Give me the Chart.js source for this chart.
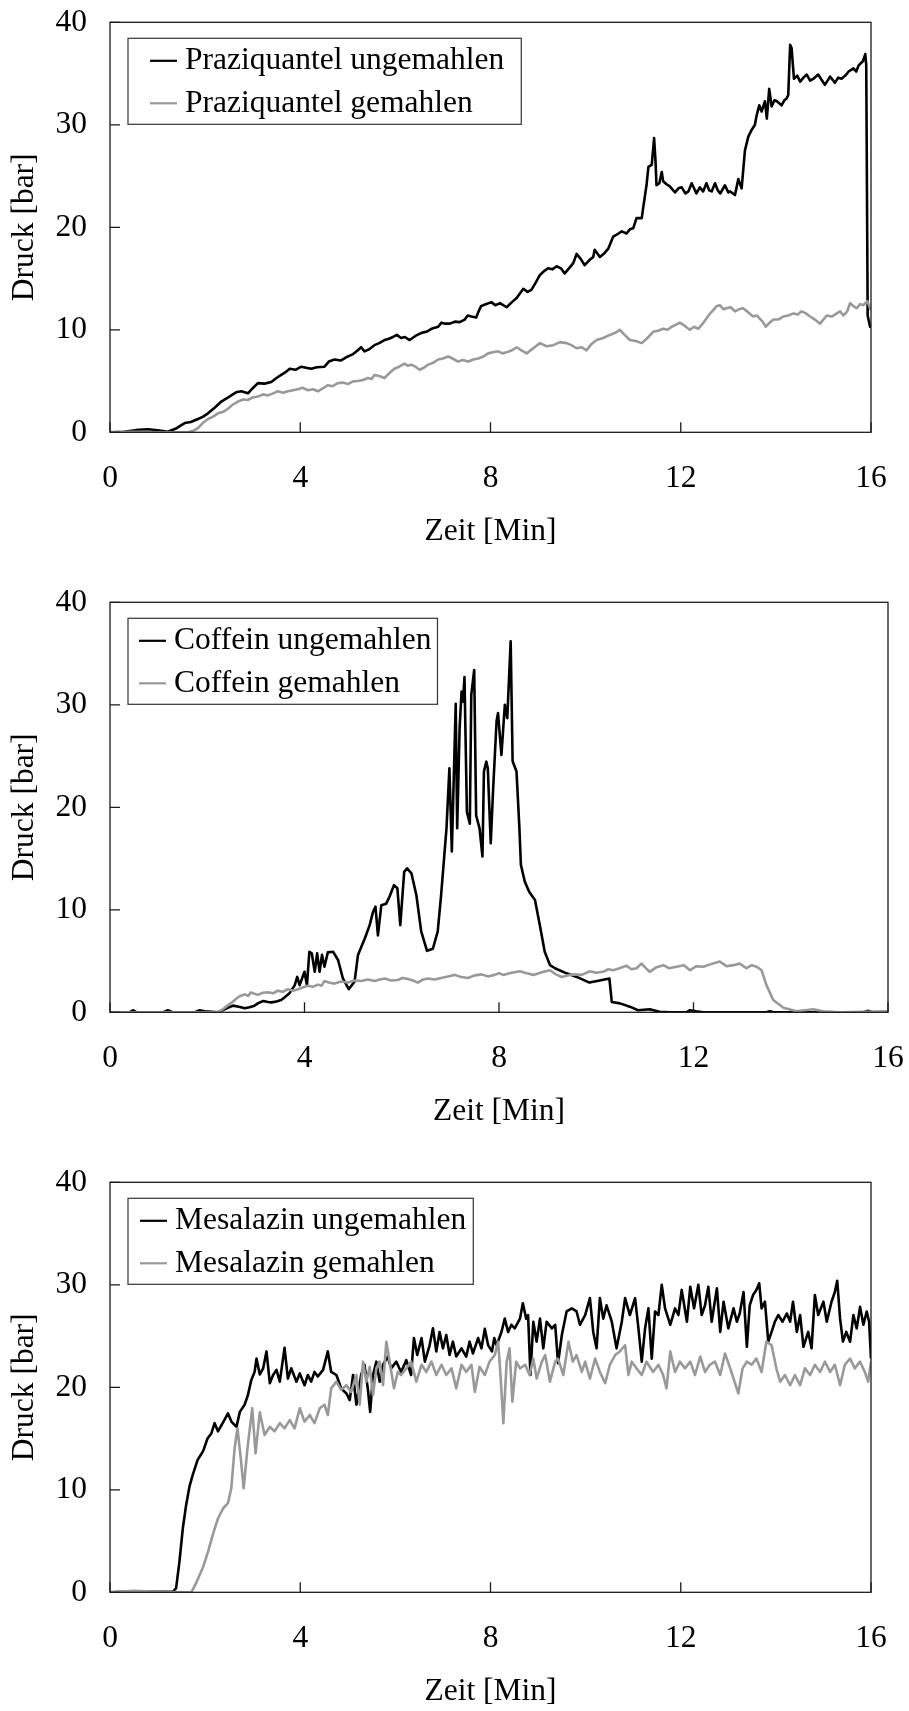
<!DOCTYPE html>
<html>
<head>
<meta charset="utf-8">
<script src="https://cdn.jsdelivr.net/npm/chart.js@4.4.0/dist/chart.umd.min.js"></script>
<style>
    html, body { margin: 0; padding: 0; background: #fff; }
    body { width: 909px; height: 1711px; position: relative; overflow: hidden; }
    canvas { position: absolute; left: 0; }
</style>
</head>
<body>
<canvas id="chartPrazi" width="909" height="551" style="top:0px"></canvas>
<canvas id="chartCoffein" width="909" height="551" style="top:580px"></canvas>
<canvas id="chartMesalazin" width="909" height="551" style="top:1160px"></canvas>
<script>
// axis ticks
var timeTicks = [0, 4, 8, 12, 16];     // Zeit [Min]
var pressureTicks = [0, 10, 20, 30, 40]; // Druck [bar]

// series as [Zeit, Druck] pairs
var praziUngemahlen = [[0,0],[0.3,0.05],[0.6,0.25],[0.8,0.3],[1.0,0.2],[1.22,0.05],[1.4,0.4],[1.57,0.9],[1.7,1.0],[1.85,1.3],[1.95,1.5],[2.06,1.85],[2.2,2.4],[2.34,3.0],[2.45,3.3],[2.55,3.6],[2.65,3.9],[2.76,4.0],[2.9,3.8],[3.0,4.3],[3.11,4.8],[3.25,4.75],[3.39,4.9],[3.5,5.3],[3.6,5.6],[3.7,5.9],[3.78,6.2],[3.9,6.1],[4.02,6.4],[4.12,6.3],[4.23,6.2],[4.35,6.35],[4.51,6.4],[4.6,6.9],[4.72,7.1],[4.85,7.0],[5.0,7.4],[5.1,7.6],[5.21,8.0],[5.28,8.3],[5.35,7.9],[5.45,8.1],[5.56,8.5],[5.66,8.7],[5.77,9.0],[5.85,9.1],[5.95,9.3],[6.03,9.5],[6.12,9.2],[6.2,9.3],[6.3,9.0],[6.42,9.4],[6.55,9.7],[6.65,9.8],[6.76,10.1],[6.9,10.3],[6.97,10.7],[7.04,10.6],[7.15,10.6],[7.25,10.8],[7.35,10.75],[7.46,11.0],[7.52,11.4],[7.6,11.3],[7.7,11.2],[7.75,11.8],[7.8,12.3],[7.9,12.5],[8.02,12.7],[8.1,12.4],[8.2,12.6],[8.34,12.2],[8.45,12.7],[8.55,13.1],[8.69,14.0],[8.78,13.7],[8.86,13.9],[8.95,14.6],[9.04,15.35],[9.12,15.7],[9.21,16.0],[9.3,15.9],[9.39,16.2],[9.48,16.0],[9.56,15.5],[9.65,16.0],[9.74,16.5],[9.81,17.4],[9.9,16.9],[9.98,16.3],[10.08,16.8],[10.16,17.1],[10.19,17.8],[10.3,17.1],[10.4,17.5],[10.48,17.95],[10.58,19.1],[10.66,19.3],[10.76,19.6],[10.86,19.4],[10.93,19.8],[11.0,19.9],[11.07,20.9],[11.18,20.9],[11.21,21.9],[11.28,24.1],[11.32,25.9],[11.39,26.1],[11.44,28.7],[11.47,26.4],[11.49,24.1],[11.55,24.3],[11.6,25.4],[11.63,24.5],[11.7,24.2],[11.77,24.0],[11.88,23.4],[11.95,23.8],[12.02,23.9],[12.1,23.3],[12.16,23.5],[12.23,24.3],[12.33,23.3],[12.4,23.9],[12.47,23.5],[12.54,24.3],[12.6,23.6],[12.65,23.5],[12.72,24.3],[12.78,23.6],[12.83,23.3],[12.93,24.1],[13.0,23.4],[13.04,23.5],[13.14,23.15],[13.21,24.7],[13.28,23.8],[13.35,27.5],[13.42,28.85],[13.49,29.5],[13.56,30.0],[13.59,30.8],[13.65,31.9],[13.7,31.3],[13.77,32.3],[13.81,30.6],[13.86,33.5],[13.91,31.8],[13.97,32.4],[14.02,32.3],[14.12,31.9],[14.18,32.4],[14.23,32.6],[14.26,32.9],[14.3,37.8],[14.33,37.5],[14.38,34.5],[14.45,34.8],[14.51,34.2],[14.58,34.6],[14.65,34.9],[14.72,34.3],[14.79,34.5],[14.89,34.9],[14.96,34.4],[15.03,33.9],[15.14,34.7],[15.24,34.1],[15.31,34.6],[15.38,34.5],[15.46,34.8],[15.53,35.2],[15.63,35.5],[15.69,35.2],[15.74,35.8],[15.83,36.2],[15.88,36.9],[15.9,35.8],[15.93,11.4],[15.98,10.3],[16.0,10.3]];
var praziGemahlen = [[0,0],[0.5,0.05],[1.0,0],[1.64,0],[1.75,0.15],[1.85,0.4],[1.95,0.9],[2.06,1.3],[2.16,1.5],[2.27,1.85],[2.38,2.0],[2.48,2.3],[2.58,2.7],[2.69,3.0],[2.8,3.2],[2.9,3.15],[3.0,3.4],[3.11,3.5],[3.22,3.7],[3.32,3.6],[3.43,3.8],[3.53,4.0],[3.64,3.85],[3.74,4.0],[3.85,4.1],[3.95,4.2],[4.05,4.35],[4.16,4.1],[4.27,4.2],[4.37,4.0],[4.48,4.3],[4.58,4.6],[4.68,4.5],[4.79,4.8],[4.9,4.85],[5.0,4.7],[5.1,4.95],[5.21,5.0],[5.32,5.1],[5.42,5.3],[5.5,5.2],[5.56,5.6],[5.66,5.5],[5.77,5.3],[5.88,5.8],[5.98,6.2],[6.08,6.4],[6.19,6.7],[6.26,6.5],[6.33,6.6],[6.42,6.4],[6.51,6.1],[6.6,6.3],[6.69,6.6],[6.8,6.8],[6.9,7.1],[7.0,7.2],[7.11,7.4],[7.2,7.2],[7.32,6.9],[7.42,7.05],[7.53,6.9],[7.64,7.1],[7.74,7.2],[7.85,7.4],[7.95,7.7],[8.05,7.8],[8.16,7.9],[8.25,7.7],[8.34,7.8],[8.45,8.0],[8.55,8.3],[8.65,8.0],[8.76,7.7],[8.9,8.2],[9.04,8.7],[9.18,8.4],[9.32,8.5],[9.46,8.8],[9.6,8.7],[9.7,8.5],[9.81,8.2],[9.92,8.3],[10.02,8.0],[10.12,8.6],[10.23,9.0],[10.37,9.2],[10.51,9.5],[10.62,9.7],[10.72,10.0],[10.82,9.5],[10.93,9.0],[11.05,8.9],[11.18,8.7],[11.3,9.2],[11.42,9.8],[11.52,9.9],[11.63,10.1],[11.72,10.0],[11.81,10.3],[11.9,10.5],[11.98,10.7],[12.08,10.4],[12.19,10.0],[12.28,10.3],[12.37,10.1],[12.46,10.6],[12.54,11.1],[12.6,11.5],[12.68,11.9],[12.75,12.3],[12.82,12.4],[12.9,12.0],[12.96,12.1],[13.05,12.2],[13.14,11.8],[13.22,12.0],[13.31,12.1],[13.42,11.7],[13.52,11.3],[13.6,11.4],[13.66,11.1],[13.72,10.8],[13.79,10.3],[13.87,10.7],[13.95,11.0],[14.05,11.0],[14.16,11.3],[14.26,11.4],[14.37,11.6],[14.46,11.5],[14.54,11.8],[14.63,11.6],[14.72,11.3],[14.82,11.0],[14.93,10.6],[15.0,11.0],[15.07,11.4],[15.18,11.3],[15.28,11.6],[15.35,11.8],[15.42,11.4],[15.5,11.8],[15.56,12.6],[15.63,12.3],[15.7,12.1],[15.77,12.5],[15.84,12.4],[15.92,12.8],[16.0,11.9]];

var coffeinUngemahlen = [[0,0],[0.4,0],[0.47,0.2],[0.55,0],[1.1,0],[1.19,0.2],[1.28,0],[1.75,0],[1.84,0.2],[1.95,0.1],[2.22,0],[2.4,0.4],[2.53,0.65],[2.65,0.55],[2.77,0.4],[2.87,0.5],[2.97,0.65],[3.05,0.9],[3.15,1.1],[3.25,1.0],[3.32,0.97],[3.42,1.05],[3.52,1.2],[3.6,1.5],[3.69,1.85],[3.8,2.65],[3.85,3.45],[3.9,2.65],[4.0,3.95],[4.05,2.65],[4.1,5.9],[4.15,5.75],[4.21,3.95],[4.26,5.75],[4.31,3.95],[4.36,5.6],[4.41,4.45],[4.48,5.85],[4.59,5.9],[4.69,5.1],[4.79,3.3],[4.91,2.25],[5.03,3.0],[5.1,5.6],[5.24,7.2],[5.34,8.5],[5.41,9.8],[5.46,10.3],[5.51,7.5],[5.58,10.45],[5.68,10.6],[5.75,11.3],[5.84,12.4],[5.91,12.1],[5.97,8.5],[6.05,13.7],[6.11,14.05],[6.2,13.55],[6.3,11.45],[6.4,7.9],[6.52,6.0],[6.64,6.2],[6.74,7.9],[6.81,11.45],[6.92,17.95],[6.98,23.8],[7.03,15.7],[7.11,30.1],[7.14,17.95],[7.19,27.7],[7.23,31.3],[7.26,30.3],[7.29,32.7],[7.34,19.55],[7.4,18.4],[7.43,31.0],[7.49,33.4],[7.53,19.2],[7.6,17.95],[7.66,15.2],[7.69,23.5],[7.74,24.45],[7.77,23.8],[7.83,16.5],[7.88,21.85],[7.95,28.4],[7.98,29.2],[8.05,25.1],[8.12,30.0],[8.17,28.7],[8.24,36.2],[8.28,24.5],[8.36,23.5],[8.42,17.95],[8.45,14.4],[8.53,12.75],[8.62,11.75],[8.74,10.95],[8.84,8.5],[8.94,5.9],[9.05,4.6],[9.15,4.3],[9.39,3.8],[9.6,3.45],[9.86,2.9],[10.07,3.1],[10.27,3.3],[10.32,1.0],[10.49,0.87],[10.69,0.55],[10.86,0.2],[11.1,0.3],[11.3,0.05],[11.51,0],[11.85,0],[11.93,0.2],[12.05,0.1],[12.2,0],[13.5,0],[13.57,0.1],[13.65,0],[15.5,0],[15.59,0.15],[15.68,0],[16.0,0]];
var coffeinGemahlen = [[0,0],[2.22,0],[2.32,0.3],[2.43,0.7],[2.52,1.0],[2.6,1.35],[2.68,1.6],[2.77,1.75],[2.84,1.6],[2.9,1.95],[2.97,1.8],[3.04,1.7],[3.14,1.9],[3.25,1.95],[3.35,1.85],[3.45,2.1],[3.55,2.0],[3.66,2.25],[3.76,2.1],[3.87,2.25],[3.97,2.45],[4.07,2.6],[4.17,2.5],[4.28,2.7],[4.35,2.6],[4.41,3.05],[4.5,2.9],[4.62,2.8],[4.75,3.0],[4.89,2.9],[5.03,3.1],[5.17,3.05],[5.3,3.2],[5.44,3.05],[5.55,3.2],[5.65,3.3],[5.78,3.1],[5.92,3.15],[6.02,3.35],[6.13,3.25],[6.23,3.1],[6.33,2.9],[6.44,3.2],[6.54,3.3],[6.68,3.2],[6.81,3.35],[6.95,3.5],[7.09,3.65],[7.22,3.45],[7.36,3.35],[7.5,3.6],[7.64,3.7],[7.78,3.5],[7.91,3.65],[8.0,3.8],[8.09,3.65],[8.26,3.85],[8.43,4.0],[8.57,3.8],[8.71,3.65],[8.88,3.9],[9.05,4.1],[9.17,3.7],[9.29,3.45],[9.41,3.6],[9.53,3.7],[9.7,3.65],[9.87,4.0],[10.0,3.85],[10.14,3.95],[10.25,4.2],[10.35,4.1],[10.48,4.3],[10.62,4.55],[10.72,4.2],[10.83,4.3],[10.93,4.75],[11.02,4.3],[11.1,3.95],[11.24,4.4],[11.38,4.6],[11.5,4.3],[11.65,4.45],[11.8,4.6],[11.93,4.1],[12.06,4.5],[12.2,4.45],[12.36,4.7],[12.54,4.95],[12.68,4.5],[12.82,4.6],[12.95,4.75],[13.09,4.3],[13.2,4.6],[13.3,4.45],[13.4,4.1],[13.5,2.65],[13.64,1.2],[13.85,0.45],[14.12,0.1],[14.46,0.3],[14.67,0.1],[15.0,0],[16.0,0.1]];

var mesaUngemahlen = [[0,0],[0.5,0.1],[1.0,0.05],[1.32,0.05],[1.39,0.4],[1.46,3.0],[1.53,6.2],[1.6,8.5],[1.67,10.3],[1.74,11.45],[1.84,12.9],[1.96,13.8],[2.05,15.0],[2.13,15.5],[2.2,16.5],[2.27,15.7],[2.38,16.6],[2.48,17.45],[2.56,16.6],[2.66,16.15],[2.73,17.6],[2.83,18.3],[2.9,19.25],[2.97,20.7],[3.04,21.5],[3.08,22.8],[3.15,21.25],[3.22,21.85],[3.29,23.5],[3.36,20.4],[3.43,21.2],[3.5,21.7],[3.57,20.55],[3.67,23.85],[3.74,20.85],[3.81,21.85],[3.92,20.55],[3.99,21.35],[4.09,20.2],[4.16,21.2],[4.23,20.55],[4.3,21.5],[4.37,21.05],[4.48,21.7],[4.58,23.5],[4.65,21.5],[4.76,21.2],[4.86,19.9],[4.97,19.4],[5.04,18.75],[5.11,21.2],[5.18,18.3],[5.28,21.2],[5.35,22.2],[5.42,19.9],[5.47,17.6],[5.53,21.2],[5.6,22.5],[5.67,20.55],[5.74,22.2],[5.84,23.0],[5.91,21.85],[6.02,22.5],[6.12,21.5],[6.23,22.65],[6.33,21.2],[6.39,24.8],[6.46,23.15],[6.55,24.8],[6.62,22.5],[6.72,24.1],[6.79,25.75],[6.86,23.5],[6.93,25.4],[7.0,23.8],[7.07,25.1],[7.14,23.15],[7.21,24.45],[7.28,23.0],[7.39,23.8],[7.49,23.0],[7.56,24.45],[7.63,23.3],[7.74,24.8],[7.81,23.8],[7.88,25.7],[7.95,24.1],[8.03,23.5],[8.08,24.8],[8.13,24.1],[8.23,25.4],[8.3,26.7],[8.37,25.4],[8.44,26.1],[8.51,25.75],[8.62,26.7],[8.68,28.2],[8.75,26.7],[8.79,27.05],[8.84,21.2],[8.9,26.4],[8.97,24.45],[9.04,26.7],[9.11,23.8],[9.18,26.4],[9.29,25.75],[9.36,26.1],[9.42,22.35],[9.5,25.1],[9.6,27.4],[9.71,27.7],[9.81,27.4],[9.88,26.1],[9.99,27.05],[10.09,28.7],[10.16,25.4],[10.23,23.8],[10.3,28.7],[10.37,26.7],[10.44,28.0],[10.55,26.4],[10.65,23.8],[10.76,26.4],[10.83,28.7],[10.93,27.05],[11.04,28.7],[11.11,25.75],[11.18,22.5],[11.25,25.75],[11.32,27.7],[11.39,22.8],[11.46,27.4],[11.53,27.05],[11.6,30.0],[11.67,27.7],[11.78,26.1],[11.88,27.7],[11.95,27.05],[12.02,29.5],[12.13,26.4],[12.2,29.8],[12.28,27.7],[12.37,30.0],[12.44,27.05],[12.51,28.0],[12.58,29.8],[12.65,26.4],[12.76,29.65],[12.83,25.4],[12.9,28.35],[13.0,25.75],[13.11,27.7],[13.18,26.4],[13.24,27.2],[13.32,29.3],[13.39,23.95],[13.45,28.0],[13.52,29.0],[13.59,29.5],[13.65,30.15],[13.7,27.7],[13.77,28.35],[13.84,24.45],[13.91,25.4],[13.98,26.4],[14.05,27.05],[14.14,26.4],[14.23,27.2],[14.3,26.4],[14.36,28.35],[14.44,25.4],[14.51,27.05],[14.58,23.95],[14.68,25.4],[14.75,23.8],[14.82,29.0],[14.89,27.05],[15.0,28.35],[15.07,26.4],[15.17,28.35],[15.24,29.3],[15.29,30.4],[15.35,26.7],[15.41,24.45],[15.48,25.4],[15.56,24.45],[15.63,27.05],[15.7,25.75],[15.77,27.85],[15.84,26.1],[15.91,27.4],[15.96,26.4],[16.0,22.8]];
var mesaGemahlen = [[0,0],[0.5,0.15],[1.0,0.05],[1.71,0],[1.82,1.0],[1.96,2.5],[2.06,3.95],[2.17,5.75],[2.27,7.2],[2.38,8.2],[2.48,8.7],[2.55,10.15],[2.62,14.05],[2.68,16.0],[2.75,13.05],[2.81,10.15],[2.89,14.05],[2.99,17.95],[3.06,13.55],[3.15,17.55],[3.25,15.35],[3.36,16.15],[3.46,15.7],[3.57,16.5],[3.67,16.0],[3.78,16.8],[3.88,16.0],[3.99,17.95],[4.09,16.65],[4.2,17.3],[4.3,16.5],[4.41,17.95],[4.51,18.3],[4.58,17.3],[4.65,19.9],[4.76,20.55],[4.86,19.75],[4.97,20.2],[5.07,19.55],[5.18,21.2],[5.25,18.3],[5.32,22.5],[5.39,20.55],[5.46,22.0],[5.53,19.25],[5.6,21.85],[5.67,22.5],[5.74,20.2],[5.81,24.45],[5.88,22.5],[5.97,19.9],[6.05,21.5],[6.12,21.2],[6.23,21.85],[6.33,22.5],[6.44,20.55],[6.55,22.2],[6.65,21.5],[6.76,22.5],[6.86,21.2],[6.97,22.2],[7.07,21.2],[7.18,21.85],[7.28,19.9],[7.39,22.2],[7.49,21.5],[7.6,22.2],[7.67,19.55],[7.77,22.0],[7.88,21.2],[7.98,22.5],[8.09,23.15],[8.16,24.45],[8.21,21.2],[8.27,16.5],[8.34,22.5],[8.4,23.8],[8.46,18.6],[8.54,22.5],[8.62,21.85],[8.73,22.2],[8.82,21.2],[8.9,22.8],[8.97,20.85],[9.08,22.5],[9.15,23.15],[9.25,20.55],[9.36,22.5],[9.42,22.8],[9.53,21.2],[9.64,24.45],[9.73,22.5],[9.81,23.15],[9.92,21.5],[9.99,22.5],[10.09,20.85],[10.2,22.8],[10.3,21.5],[10.41,20.4],[10.51,22.2],[10.62,23.15],[10.72,23.5],[10.83,24.1],[10.9,21.2],[10.97,22.5],[11.07,21.85],[11.18,21.2],[11.28,22.5],[11.42,21.5],[11.53,22.2],[11.63,21.2],[11.7,19.9],[11.78,23.5],[11.88,21.5],[11.98,22.5],[12.09,21.85],[12.2,22.5],[12.3,21.2],[12.41,23.0],[12.51,21.5],[12.61,22.2],[12.72,22.5],[12.83,21.2],[12.93,23.3],[13.04,21.85],[13.14,20.4],[13.21,19.4],[13.3,21.85],[13.39,22.5],[13.49,22.2],[13.59,22.8],[13.7,21.5],[13.8,24.45],[13.91,24.1],[14.01,21.85],[14.09,20.55],[14.19,21.2],[14.3,20.2],[14.4,21.2],[14.51,20.2],[14.61,21.85],[14.72,21.2],[14.82,22.2],[14.93,21.5],[15.03,22.5],[15.14,21.5],[15.24,22.2],[15.35,20.2],[15.45,22.2],[15.56,22.8],[15.66,21.85],[15.77,22.5],[15.87,21.5],[15.94,20.55],[16.0,22.5]];

var FONT_FAMILY = '"Liberation Serif", "Times New Roman", serif';
var FONT = { family: FONT_FAMILY, size: 31.5 };

function toPoints(pairs) {
    return pairs.map(function (p) { return { x: p[0], y: p[1] }; });
}

// closed frame round the plot plus short inward ticks
var framePlugin = {
    id: 'frame',
    afterDatasetsDraw: function (chart) {
        var ctx = chart.ctx, a = chart.chartArea;
        var xs = chart.scales.x, ys = chart.scales.y;
        ctx.save();
        ctx.strokeStyle = '#1a1a1a';
        ctx.lineWidth = 1.3;
        ctx.strokeRect(a.left, a.top, a.right - a.left, a.bottom - a.top);
        ctx.beginPath();
        xs.ticks.forEach(function (t) {
            var px = xs.getPixelForValue(t.value);
            ctx.moveTo(px, a.bottom);
            ctx.lineTo(px, a.bottom - 10);
        });
        ys.ticks.forEach(function (t) {
            var py = ys.getPixelForValue(t.value);
            ctx.moveTo(a.left, py);
            ctx.lineTo(a.left + 10, py);
        });
        ctx.stroke();
        ctx.restore();
    }
};

// boxed legend in the upper left corner of the plot
var legendBoxPlugin = {
    id: 'legendBox',
    afterDraw: function (chart, args, opts) {
        var ctx = chart.ctx, a = chart.chartArea;
        var sets = chart.data.datasets.slice().sort(function (p, q) { return p.legendIndex - q.legendIndex; });
        var inset = opts.inset || 12;
        var x0 = a.left + 18, y0 = a.top + 16;
        var rows = [y0 + 22.5, y0 + 65];
        var sampleX = x0 + inset, sampleW = 27, textX = sampleX + sampleW + 8;
        ctx.save();
        ctx.font = FONT.size + 'px ' + FONT_FAMILY;
        var w = 0;
        sets.forEach(function (d) { w = Math.max(w, ctx.measureText(d.label).width); });
        var x1 = textX + w + inset - 5, y1 = y0 + 86;
        ctx.fillStyle = '#fff';
        ctx.fillRect(x0, y0, x1 - x0, y1 - y0);
        ctx.strokeStyle = '#333';
        ctx.lineWidth = 1.2;
        ctx.strokeRect(x0, y0, x1 - x0, y1 - y0);
        sets.forEach(function (d, i) {
            ctx.strokeStyle = d.borderColor;
            ctx.lineWidth = 2.2;
            ctx.beginPath();
            ctx.moveTo(sampleX, rows[i]);
            ctx.lineTo(sampleX + sampleW, rows[i]);
            ctx.stroke();
            ctx.fillStyle = '#000';
            ctx.textBaseline = 'middle';
            ctx.textAlign = 'left';
            ctx.fillText(d.label, textX, rows[i]);
        });
        ctx.restore();
    }
};

function makeChart(id, labels, blackSeries, graySeries, padRight, inset) {
    return new Chart(document.getElementById(id), {
        type: 'line',
        data: {
            datasets: [
                { label: labels[0], data: toPoints(blackSeries), borderColor: '#000000', order: 1, legendIndex: 0 },
                { label: labels[1], data: toPoints(graySeries), borderColor: '#999999', order: 0, legendIndex: 1 }
            ]
        },
        options: {
            responsive: false,
            animation: false,
            layout: { padding: { left: 0, right: padRight, top: 22.3, bottom: 0 } },
            elements: {
                point: { radius: 0 },
                line: { borderWidth: 2.6, tension: 0, borderJoinStyle: 'round', fill: false }
            },
            plugins: {
                legend: { display: false },
                tooltip: { enabled: false },
                legendBox: { inset: inset }
            },
            scales: {
                x: {
                    type: 'linear', min: timeTicks[0], max: timeTicks[timeTicks.length - 1],
                    afterBuildTicks: function (s) { s.ticks = timeTicks.map(function (v) { return { value: v }; }); },
                    ticks: { padding: 28, color: '#000', font: FONT, maxRotation: 0 },
                    grid: { display: false, drawTicks: false },
                    border: { display: false },
                    title: { display: true, text: 'Zeit [Min]', color: '#000', font: FONT, padding: 0 },
                    afterFit: function (s) {
                        s.height = 118.7;
                        // keep the label overhang from pushing the plot edges
                        s.paddingLeft = 0;
                        s.paddingRight = 0;
                    }
                },
                y: {
                    type: 'linear', min: pressureTicks[0], max: pressureTicks[pressureTicks.length - 1],
                    afterBuildTicks: function (s) { s.ticks = pressureTicks.map(function (v) { return { value: v }; }); },
                    ticks: { padding: 23, color: '#000', font: FONT },
                    grid: { display: false, drawTicks: false },
                    border: { display: false },
                    title: { display: true, text: 'Druck [bar]', color: '#000', font: FONT, padding: { top: 6, bottom: 0 } },
                    afterFit: function (s) {
                        s.width = 110;
                        s.paddingTop = 0;
                        s.paddingBottom = 0;
                    }
                }
            }
        },
        plugins: [framePlugin, legendBoxPlugin]
    });
}

makeChart('chartPrazi', ['Praziquantel ungemahlen', 'Praziquantel gemahlen'], praziUngemahlen, praziGemahlen, 38, 22);
makeChart('chartCoffein', ['Coffein ungemahlen', 'Coffein gemahlen'], coffeinUngemahlen, coffeinGemahlen, 21, 11);
makeChart('chartMesalazin', ['Mesalazin ungemahlen', 'Mesalazin gemahlen'], mesaUngemahlen, mesaGemahlen, 38, 12);
</script>
</body>
</html>
